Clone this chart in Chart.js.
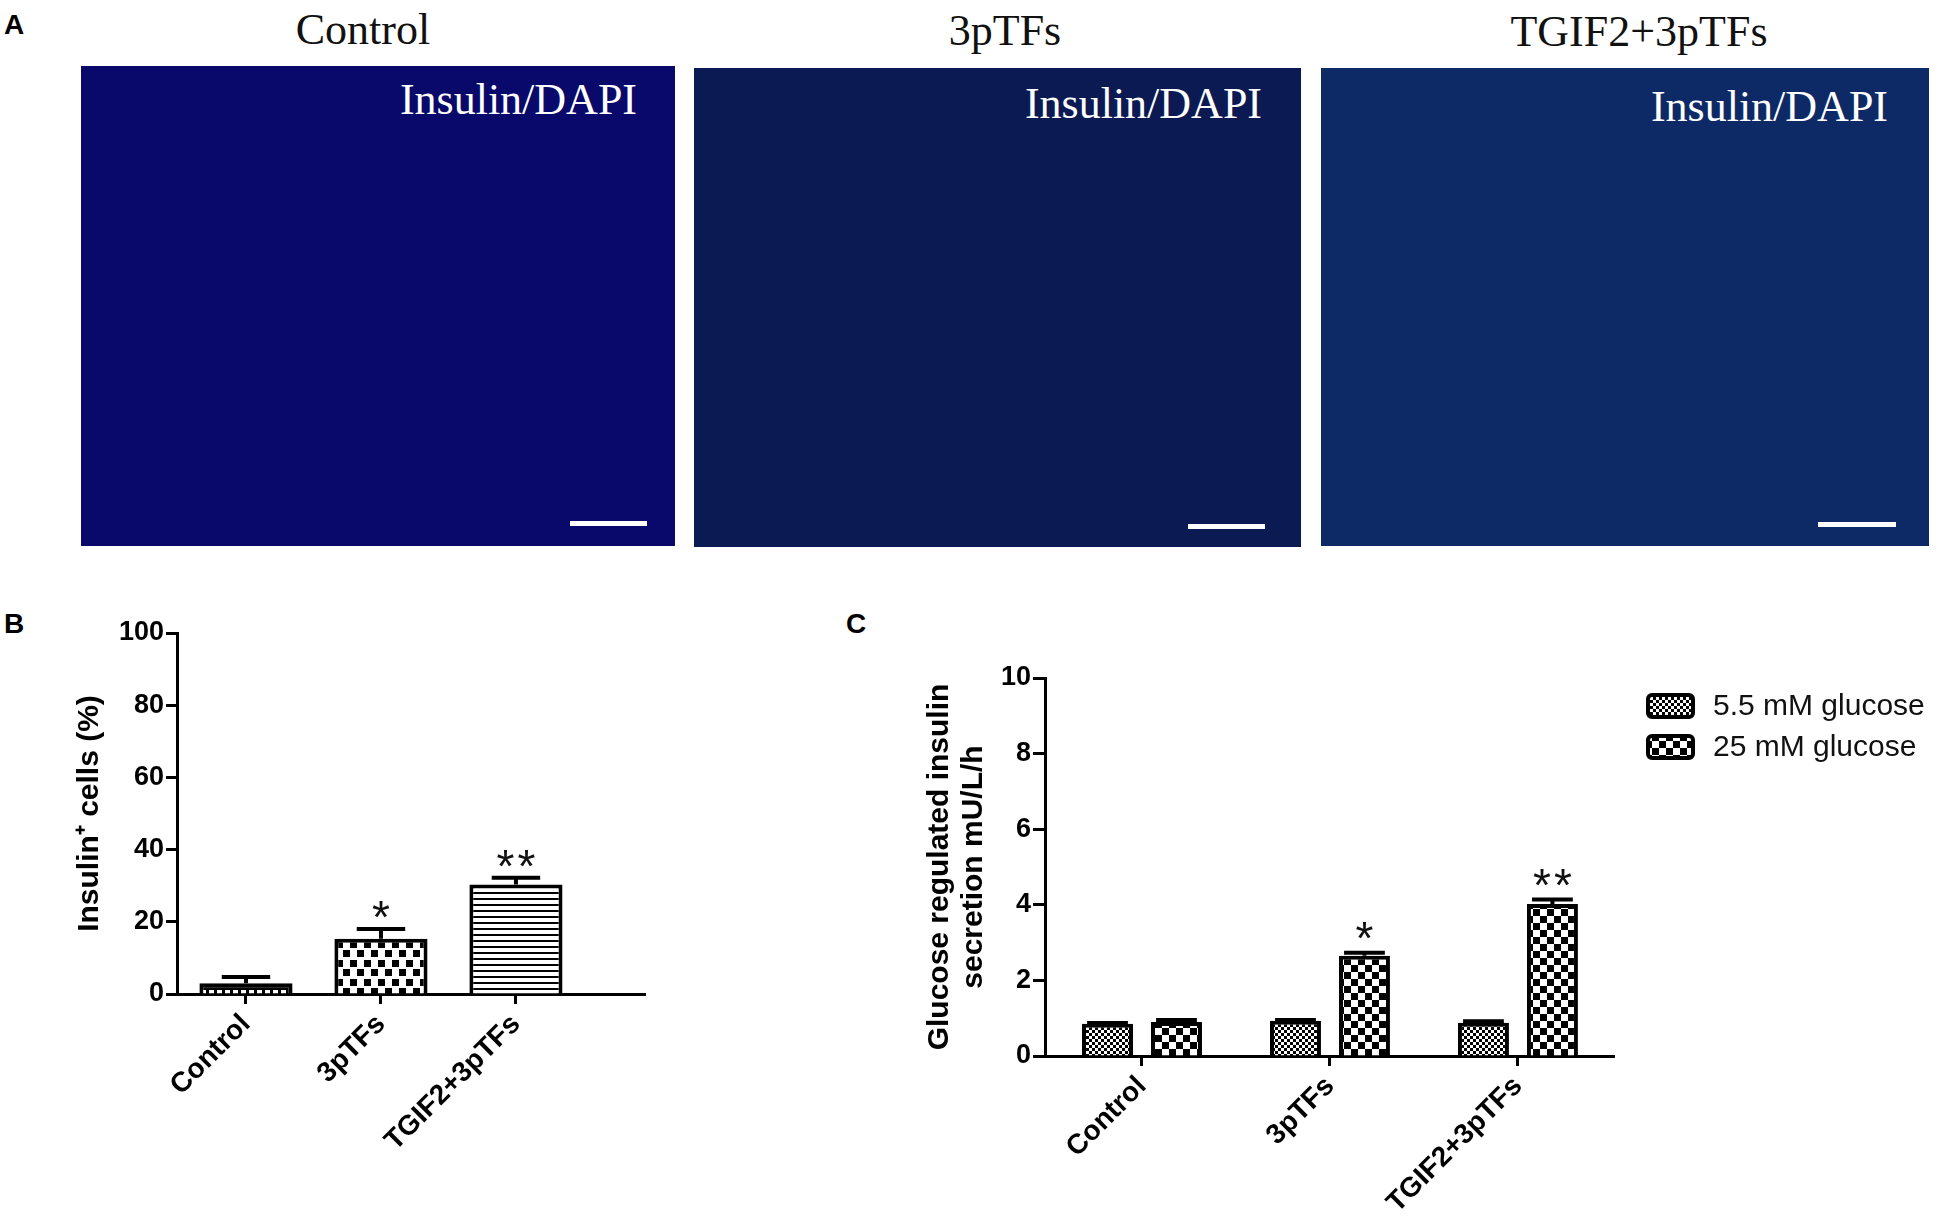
<!DOCTYPE html>
<html>
<head>
<meta charset="utf-8">
<script src="https://cdn.jsdelivr.net/npm/chart.js@4.4.1/dist/chart.umd.min.js"></script>
<style>
  html, body { margin: 0; padding: 0; background: #fff; }
  #page { position: relative; width: 1950px; height: 1229px; overflow: hidden; font-family: "Liberation Sans", Arial, sans-serif; }
  .panel-tag { position: absolute; font-weight: bold; font-size: 28px; line-height: 28px; color: #000; }
  .micro-title { position: absolute; font-family: "Liberation Serif", "Times New Roman", serif; font-size: 44px; line-height: 44px; color: #111; white-space: nowrap; transform: translateX(-50%); }
  .micro { position: absolute; }
  .stain { position: absolute; font-family: "Liberation Serif", "Times New Roman", serif; font-size: 44px; line-height: 44px; color: #fff; white-space: nowrap; }
  .scalebar { position: absolute; background: #fff; height: 5px; }
  canvas { position: absolute; }
</style>
</head>
<body>
<div id="page">
  <!-- panel A: micrographs (plain blocks, no chart data) -->
  <div class="panel-tag" style="left:4px;top:11px;">A</div>
  <div class="micro-title" style="left:363px;top:8px;">Control</div>
  <div class="micro-title" style="left:1005px;top:9px;">3pTFs</div>
  <div class="micro-title" style="left:1639px;top:10px;">TGIF2+3pTFs</div>

  <div class="micro" style="left:81px;top:66px;width:594px;height:480px;background:#08096a;"></div>
  <div class="micro" style="left:694px;top:68px;width:607px;height:479px;background:#0b1a52;"></div>
  <div class="micro" style="left:1321px;top:68px;width:608px;height:478px;background:#0e2a66;"></div>

  <div class="stain" style="right:1313px;top:78px;">Insulin/DAPI</div>
  <div class="stain" style="right:688px;top:82px;">Insulin/DAPI</div>
  <div class="stain" style="right:62px;top:85px;">Insulin/DAPI</div>

  <div class="scalebar" style="left:570px;top:521px;width:77px;"></div>
  <div class="scalebar" style="left:1188px;top:524px;width:77px;"></div>
  <div class="scalebar" style="left:1818px;top:522px;width:78px;"></div>

  <div class="panel-tag" style="left:4px;top:610px;">B</div>
  <div class="panel-tag" style="left:846px;top:610px;">C</div>

  <canvas id="chartB" width="700" height="649" style="left:0;top:580px;"></canvas>
  <canvas id="chartC" width="1110" height="649" style="left:840px;top:580px;"></canvas>
</div>

<script>
// ---- data: panel B ----
const groupsB = ['Control', '3pTFs', 'TGIF2+3pTFs'];
const insulinPct = [3.0, 15.3, 30.3];
const insulinPctErr = [1.7, 2.7, 1.9];
const insulinPctStars = ['', '*', '**'];
const yTicksB = [0, 20, 40, 60, 80, 100];

// ---- data: panel C ----
const groupsC = ['Control', '3pTFs', 'TGIF2+3pTFs'];
const seriesC = ['5.5 mM glucose', '25 mM glucose'];
const secretionLow = [0.85, 0.93, 0.88];
const secretionLowErr = [0.02, 0.02, 0.04];
const secretionHigh = [0.90, 2.65, 4.02];
const secretionHighErr = [0.05, 0.08, 0.12];
const secretionHighStars = ['', '*', '**'];
const yTicksC = [0, 2, 4, 6, 8, 10];

const FONT = '"Liberation Sans", Arial, sans-serif';

function makePattern(w, h, bg, fg, rects) {
  const c = document.createElement('canvas');
  c.width = w; c.height = h;
  const g = c.getContext('2d');
  g.fillStyle = bg; g.fillRect(0, 0, w, h);
  g.fillStyle = fg;
  rects.forEach(r => g.fillRect(r[0], r[1], r[2], r[3]));
  return g.createPattern(c, 'repeat');
}

const patDash = makePattern(8, 8, '#000', '#fff', [[1, 2, 5, 4]]);
const patDots = makePattern(14, 19, '#fff', '#000', [[0, 0, 7, 7], [7, 9, 7, 7]]);
const patLines = makePattern(6, 6, '#fff', '#000', [[0, 0, 6, 2]]);
const patFine = makePattern(6, 6, '#fff', '#000', [[0, 0, 3, 3], [3, 3, 3, 3]]);
const patCheck = makePattern(14, 14, '#fff', '#000', [[0, 0, 7, 7], [7, 7, 7, 7]]);

// error bars (mean + SD, upward) and significance stars
const errorBars = {
  id: 'errorBars',
  afterDatasetsDraw(chart, args, opts) {
    const { ctx } = chart;
    const yScale = chart.scales.y;
    chart.data.datasets.forEach((ds, di) => {
      const meta = chart.getDatasetMeta(di);
      meta.data.forEach((bar, i) => {
        const v = ds.data[i].y;
        const top = yScale.getPixelForValue(v + ds.errors[i]);
        const half = bar.width * opts.cap / 2;
        ctx.save();
        ctx.strokeStyle = '#000';
        ctx.lineWidth = opts.lineWidth;
        ctx.beginPath();
        ctx.moveTo(bar.x, bar.y);
        ctx.lineTo(bar.x, top);
        ctx.moveTo(bar.x - half, top);
        ctx.lineTo(bar.x + half, top);
        ctx.stroke();

        const stars = ds.stars ? ds.stars[i] : '';
        if (stars) {
          ctx.fillStyle = '#111';
          ctx.font = '46px ' + FONT;
          ctx.textAlign = 'center';
          ctx.textBaseline = 'alphabetic';
          const cy = top - opts.starGap;
          const n = stars.length;
          for (let k = 0; k < n; k++) {
            const sx = bar.x + (k - (n - 1) / 2) * 21;
            ctx.fillText('*', sx, cy + 26);
          }
        }
        ctx.restore();
      });
    });
  }
};

// boxed legend in the GraphPad style
const boxLegend = {
  id: 'boxLegend',
  afterDraw(chart, args, opts) {
    if (!opts.display) return;
    const { ctx } = chart;
    chart.data.datasets.forEach((ds, i) => {
      const y = opts.y + i * opts.step;
      ctx.save();
      ctx.fillStyle = ds.backgroundColor;
      ctx.strokeStyle = '#000';
      ctx.lineWidth = 4;
      ctx.beginPath();
      ctx.roundRect(opts.x, y, opts.boxW, opts.boxH, 4);
      ctx.fill();
      ctx.stroke();
      ctx.fillStyle = '#111';
      ctx.font = opts.fontSize + 'px ' + FONT;
      ctx.textAlign = 'left';
      ctx.textBaseline = 'middle';
      ctx.fillText(ds.label, opts.textX, y + opts.boxH / 2 + 1);
      ctx.restore();
    });
  }
};

function axisX(groups, min, max, height, padding) {
  return {
    type: 'linear',
    min: min,
    max: max,
    offset: false,
    afterBuildTicks: s => { s.ticks = groups.map((_, i) => ({ value: i + 1 })); },
    afterFit: s => { s.height = height; },
    grid: { display: true, offset: false, drawOnChartArea: false, drawTicks: true, tickLength: 10, tickWidth: 3, tickColor: '#000' },
    border: { display: true, color: '#000', width: 3 },
    ticks: {
      autoSkip: false, minRotation: 45, maxRotation: 45, padding: padding, color: '#000',
      font: { family: FONT, size: 28, weight: 'bold' },
      callback: v => groups[v - 1] || ''
    }
  };
}

function axisY(tickValues, width, title, titleSize, titleLH, titlePad, tickLen) {
  return {
    min: tickValues[0],
    max: tickValues[tickValues.length - 1],
    afterBuildTicks: s => { s.ticks = tickValues.map(v => ({ value: v })); },
    afterFit: s => { s.width = width; },
    grid: { display: true, drawOnChartArea: false, drawTicks: true, tickLength: tickLen, tickWidth: 3, tickColor: '#000' },
    border: { display: true, color: '#000', width: 3 },
    ticks: { padding: 2, color: '#000', font: { family: FONT, size: 27, weight: 'bold' } },
    title: {
      display: true, text: title, color: '#000',
      font: { family: FONT, size: titleSize, weight: 'bold', lineHeight: titleLH },
      padding: { top: titlePad, bottom: 0 }
    }
  };
}

Chart.defaults.animation = false;

new Chart(document.getElementById('chartB'), {
  type: 'bar',
  data: {
    datasets: [{
      label: 'Insulin+ cells',
      data: insulinPct.map((v, i) => ({ x: i + 1, y: v })),
      errors: insulinPctErr,
      stars: insulinPctStars,
      backgroundColor: [patDash, patDots, patLines],
      borderColor: '#000',
      borderWidth: 4,
      categoryPercentage: 0.69,
      barPercentage: 1.0
    }]
  },
  options: {
    responsive: false,
    animation: false,
    layout: { padding: { left: 0, right: 55, top: 53, bottom: 0 } },
    plugins: {
      legend: { display: false },
      tooltip: { enabled: false },
      errorBars: { cap: 0.52, lineWidth: 4, starGap: 22 },
      boxLegend: { display: false }
    },
    scales: {
      x: axisX(groupsB, 0.489, 3.956, 235, 4),
      y: axisY(yTicksB, 177, 'Insulin\u207A cells (%)', 30, 1.2, 72, 11)
    }
  },
  plugins: [errorBars, boxLegend]
});

new Chart(document.getElementById('chartC'), {
  type: 'bar',
  data: {
    datasets: [{
      label: seriesC[0],
      data: secretionLow.map((v, i) => ({ x: i + 1, y: v })),
      errors: secretionLowErr,
      backgroundColor: patFine,
      borderColor: '#000',
      borderWidth: 4,
      categoryPercentage: 0.734,
      barPercentage: 0.739
    }, {
      label: seriesC[1],
      data: secretionHigh.map((v, i) => ({ x: i + 1, y: v })),
      errors: secretionHighErr,
      stars: secretionHighStars,
      backgroundColor: patCheck,
      borderColor: '#000',
      borderWidth: 4,
      categoryPercentage: 0.734,
      barPercentage: 0.739
    }]
  },
  options: {
    responsive: false,
    animation: false,
    layout: { padding: { left: 0, right: 336, top: 98, bottom: 0 } },
    plugins: {
      legend: { display: false },
      tooltip: { enabled: false },
      errorBars: { cap: 0.8, lineWidth: 4, starGap: 25 },
      boxLegend: { display: true, x: 808, y: 115, step: 41, boxW: 45, boxH: 22, textX: 873, fontSize: 30 }
    },
    scales: {
      x: axisX(groupsC, 0.484, 3.511, 173, 4),
      y: axisY(yTicksC, 205, ['Glucose regulated insulin', 'secretion mU/L/h'], 30, 1.133, 83, 12)
    }
  },
  plugins: [errorBars, boxLegend]
});
</script>
</body>
</html>
